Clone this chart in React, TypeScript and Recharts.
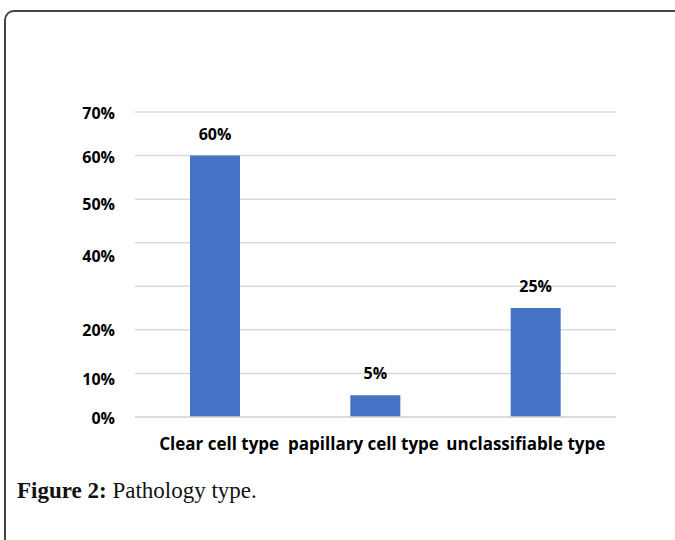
import React from 'react';
import { BarChart, Bar, XAxis, YAxis, CartesianGrid, LabelList } from 'recharts';

const categories = ['Clear cell type', 'papillary cell type', 'unclassifiable type'];
const shares = [60, 5, 25];
const yTicks = [0, 10, 20, 30, 40, 50, 60, 70];

const data = categories.map((name, i) => ({ name, value: shares[i] }));

const FONT = '"Open Sans", Lato, sans-serif';

// the original figure has a few tick labels nudged off their gridlines, and 30% missing
const tickNudge: Record<number, number> = { 0: 1, 10: 6, 20: 1, 40: 14, 50: 5, 60: 2, 70: 1 };
// category labels are packed together in the original, not centred on the bars
const catNudge: Record<string, number> = {
  'Clear cell type': 4,
  'papillary cell type': -12,
  'unclassifiable type': -10,
};

const YTick = (props: any) => {
  const { x, y, payload } = props;
  if (payload.value === 30) return null;
  return (
    <text
      x={x}
      y={y + (tickNudge[payload.value] ?? 0)}
      dy="0.35em"
      textAnchor="end"
      fontFamily={FONT}
      fontWeight={700}
      fontSize={16}
      fill="#000"
    >
      {payload.value}%
    </text>
  );
};

const XTick = (props: any) => {
  const { x, y, payload } = props;
  return (
    <text
      x={x + (catNudge[payload.value] ?? 0)}
      y={y}
      dy="0.72em"
      textAnchor="middle"
      fontFamily={FONT}
      fontWeight={700}
      fontSize={17}
      fill="#000"
    >
      {payload.value}
    </text>
  );
};

export default function App() {
  return (
    <div
      style={{
        position: 'absolute',
        left: 0,
        top: 0,
        width: 675,
        height: 540,
        overflow: 'hidden',
        background: '#fff',
      }}
    >
      {/* frame of the figure box */}
      <div
        style={{
          position: 'absolute',
          left: 4,
          top: 10,
          width: 720,
          height: 600,
          border: '2px solid #444',
          borderTopLeftRadius: 10,
        }}
      />
      <div style={{ position: 'absolute', left: 0, top: 0 }}>
        <BarChart
          width={675}
          height={540}
          data={data}
          margin={{ top: 112, right: 59, left: 0, bottom: 83 }}
        >
          <CartesianGrid vertical={false} stroke="#d9d9d9" strokeWidth={1.5} />
          <XAxis
            dataKey="name"
            axisLine={{ stroke: '#d9d9d9', strokeWidth: 1.5 }}
            tickLine={false}
            tickSize={0}
            tickMargin={21}
            height={40}
            interval={0}
            tick={<XTick />}
          />
          <YAxis
            domain={[0, 70]}
            ticks={yTicks}
            axisLine={false}
            tickLine={false}
            tickSize={0}
            tickMargin={20}
            width={135}
            tick={<YTick />}
          />
          <Bar dataKey="value" fill="#4472C4" barSize={50} isAnimationActive={false}>
            <LabelList
              dataKey="value"
              position="top"
              offset={16}
              formatter={(v: any) => `${v}%`}
              style={{ fontFamily: FONT, fontWeight: 700, fontSize: 16, fill: '#000' }}
            />
          </Bar>
        </BarChart>
      </div>
      <div
        style={{
          position: 'absolute',
          left: 17,
          top: 478,
          fontFamily: '"Liberation Serif", "DejaVu Serif", serif',
          fontSize: 23,
          color: '#111',
          whiteSpace: 'nowrap',
        }}
      >
        <b>Figure 2:</b> Pathology type.
      </div>
    </div>
  );
}
